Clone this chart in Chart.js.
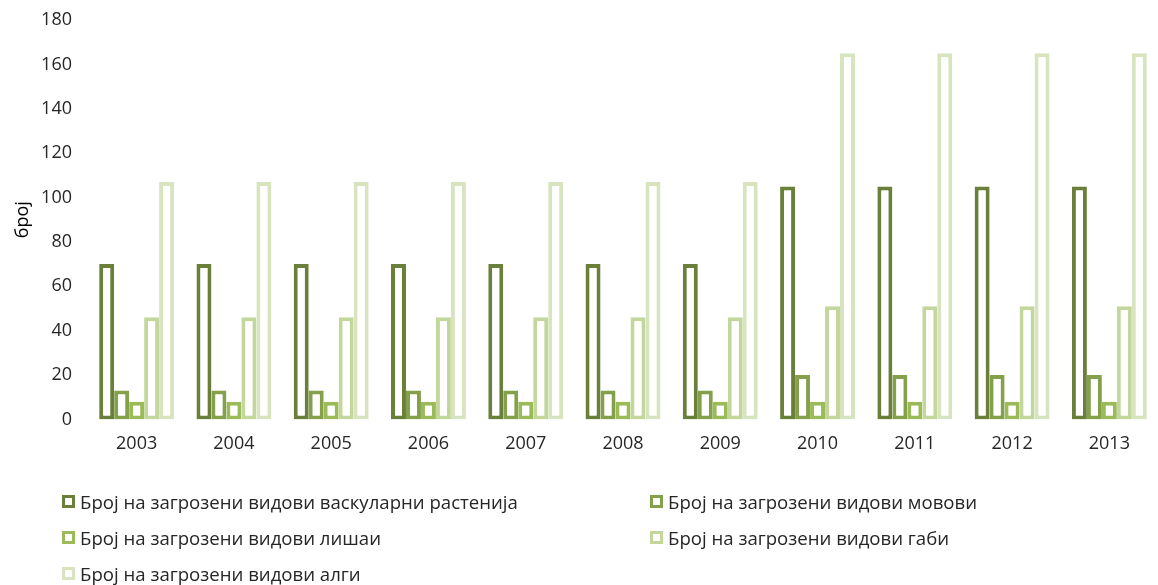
<!DOCTYPE html>
<html>
<head>
<meta charset="utf-8">
<script src="https://cdn.jsdelivr.net/npm/chart.js@4"></script>
<style>
  body { margin: 0; background: #fff; font-family: "Open Sans", sans-serif; }
  #wrap { position: relative; width: 1158px; height: 585px; }
  #legend { position: absolute; left: 62px; top: 489px; width: 1090px; }
  .item { position: absolute; display: flex; align-items: center; font-size: 18.6px; color: #262626; white-space: nowrap; }
  .box { width: 7px; height: 7px; border: 3.5px solid; margin-right: 5px; background: #fff; }
</style>
</head>
<body>
<div id="wrap">
  <canvas id="chart" width="1158" height="585"></canvas>
  <div id="legend"></div>
</div>
<script>
// Податоци
const years = ["2003", "2004", "2005", "2006", "2007", "2008", "2009", "2010", "2011", "2012", "2013"];
const vaskularni = [70, 70, 70, 70, 70, 70, 70, 105, 105, 105, 105];
const movovi = [13, 13, 13, 13, 13, 13, 13, 20, 20, 20, 20];
const lishai = [8, 8, 8, 8, 8, 8, 8, 8, 8, 8, 8];
const gabi = [46, 46, 46, 46, 46, 46, 46, 51, 51, 51, 51];
const algi = [107, 107, 107, 107, 107, 107, 107, 165, 165, 165, 165];
const yTicks = [0, 20, 40, 60, 80, 100, 120, 140, 160, 180];

const series = [
  { label: "Број на загрозени видови васкуларни растенија", data: vaskularni, color: "#6a803a" },
  { label: "Број на загрозени видови мовови", data: movovi, color: "#84a04a" },
  { label: "Број на загрозени видови лишаи", data: lishai, color: "#9bbb59" },
  { label: "Број на загрозени видови габи", data: gabi, color: "#c3d69b" },
  { label: "Број на загрозени видови алги", data: algi, color: "#d7e4bd" },
];

const textFont = { family: "Open Sans", size: 18 };

const chart = new Chart(document.getElementById("chart"), {
  type: "bar",
  data: {
    labels: years,
    datasets: series.map((s) => ({
      label: s.label,
      data: s.data,
      backgroundColor: "#ffffff",
      borderColor: s.color,
      borderWidth: 4,
      borderSkipped: false,
      categoryPercentage: 0.77,
      barPercentage: 1.0,
    })),
  },
  options: {
    responsive: false,
    animation: false,
    layout: {
      padding: { top: 20, right: 0, bottom: 116, left: 0 },
    },
    scales: {
      x: {
        grid: { display: false, drawTicks: false },
        border: { display: false },
        ticks: { font: textFont, color: "#262626", padding: 14 },
      },
      y: {
        min: 0,
        max: 180,
        afterBuildTicks: (axis) => {
          axis.ticks = yTicks.map((v) => ({ value: v }));
        },
        afterFit: (axis) => {
          axis.width = 88;
          axis.paddingTop = 0;
          axis.paddingBottom = 0;
        },
        grid: { display: false, drawTicks: false },
        border: { display: false },
        ticks: { font: textFont, color: "#262626", padding: 16 },
        title: {
          display: true,
          text: "број",
          font: textFont,
          color: "#000000",
          padding: { top: 12, bottom: 0 },
        },
      },
    },
    plugins: {
      legend: { display: false },
      tooltip: { enabled: false },
    },
  },
});

// Легенда во две колони
const legend = document.getElementById("legend");
series.forEach((s, i) => {
  const item = document.createElement("div");
  item.className = "item";
  item.style.left = (i % 2 === 0 ? 0 : 588) + "px";
  item.style.top = Math.floor(i / 2) * 36 + "px";
  item.innerHTML = `<span class="box" style="border-color:${s.color}"></span>${s.label}`;
  legend.appendChild(item);
});
</script>
</body>
</html>
